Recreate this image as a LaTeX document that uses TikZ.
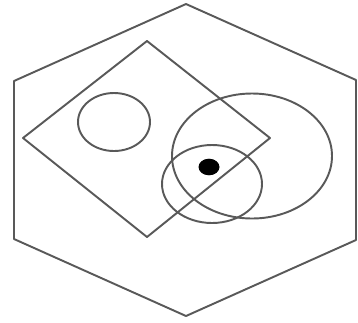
\documentclass[tikz,border=0pt]{standalone}
\usepackage{tikz}
\usetikzlibrary{positioning}

\begin{document}
\begin{tikzpicture}[
  x=0.02cm, y=-0.02cm,
  outline/.style ={draw=black!65, line width=1.1pt, line join=round},
  ring/.style    ={draw=black!65, line width=1.1pt},
  spot/.style    ={fill=black}
]
% Frame: image is 358 x 322 px, y grows downwards
\useasboundingbox (0,0) rectangle (358,322);

% Outer hexagon
\coordinate (hexT)  at (186,4);
\coordinate (hexUR) at (356,80);
\coordinate (hexLR) at (356,240);
\coordinate (hexB)  at (186,316);
\coordinate (hexLL) at (14,239);
\coordinate (hexUL) at (14,81);
\draw[outline] (hexT) -- (hexUR) -- (hexLR) -- (hexB) -- (hexLL) -- (hexUL) -- cycle;

% Tilted quadrilateral
\coordinate (quadT) at (147,41);
\coordinate (quadR) at (270,138);
\coordinate (quadB) at (147,237);
\coordinate (quadL) at (23,138);
\draw[outline] (quadT) -- (quadR) -- (quadB) -- (quadL) -- cycle;

% Circles
\draw[ring] (114,122) ellipse [x radius=36, y radius=29];
\draw[ring] (252,156) ellipse [x radius=80, y radius=62.5];
\draw[ring] (212,184) ellipse [x radius=50, y radius=39];

% Dot
\fill[spot] (209,167) ellipse [x radius=10.5, y radius=8.3];
\end{tikzpicture}
\end{document}
